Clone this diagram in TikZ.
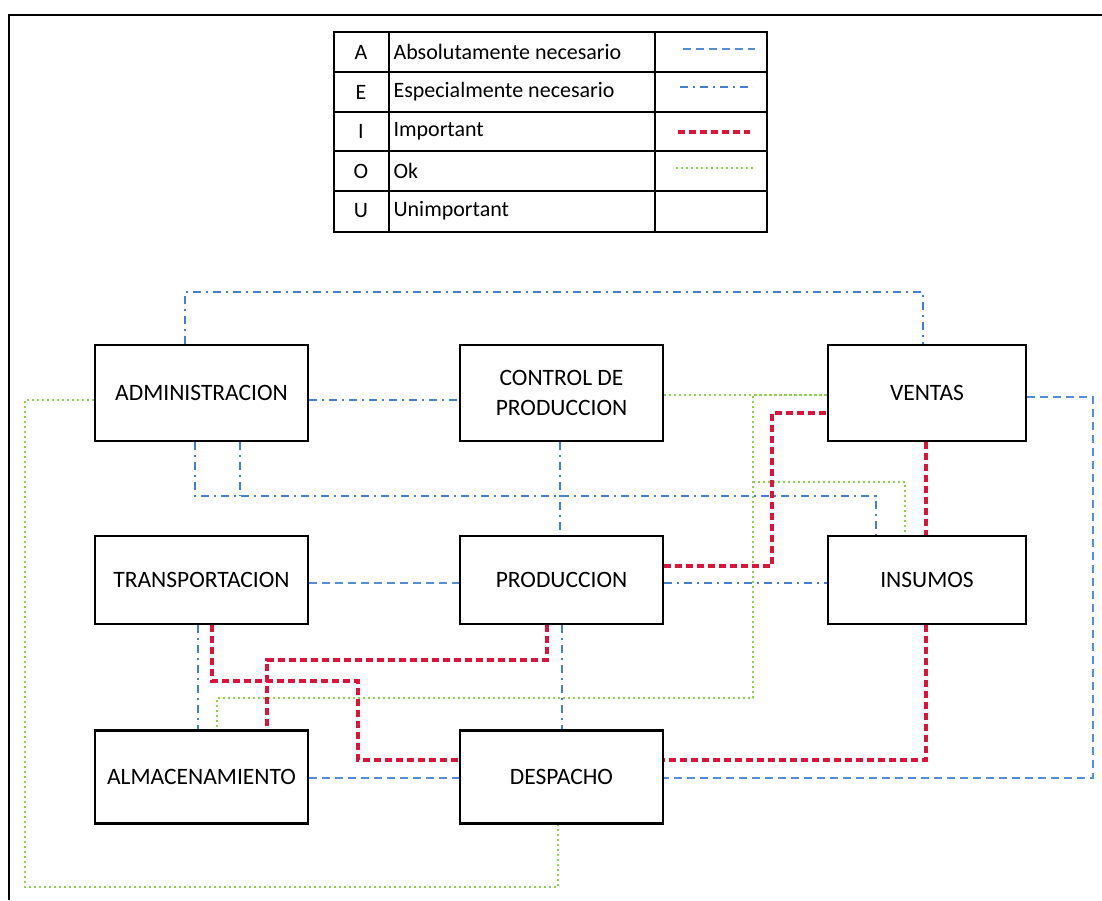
\documentclass[tikz,border=0pt]{standalone}
\usepackage{fontspec}
\setmainfont{Carlito}
\definecolor{relAcol}{RGB}{85,142,213}
\definecolor{relEcol}{RGB}{70,128,205}
\definecolor{relIcol}{RGB}{220,20,60}
\definecolor{relOcol}{RGB}{146,208,80}

\begin{document}
\begin{tikzpicture}[
  x=1pt, y=-1pt,
  every node/.style={font=\fontsize{22}{30}\selectfont},
  area/.style={draw=black, line width=2.8pt, inner sep=0pt, align=center,
    font=\fontsize{23.5}{30}\selectfont},
  relA/.style={draw=relAcol, line width=2.4pt, dash pattern=on 8pt off 5pt},
  relE/.style={draw=relEcol, line width=2.4pt, dash pattern=on 8pt off 5pt on 2pt off 5pt},
  relI/.style={draw=relIcol, line width=3.4pt, dash pattern=on 7pt off 4pt},
  relO/.style={draw=relOcol, line width=2.4pt, dash pattern=on 2pt off 3pt}
]
\useasboundingbox (0,0) rectangle (1102,900);
\draw[line width=2pt] (9,900) -- (9,15) -- (1102,15);

% Legend of closeness ratings.
\draw[line width=1.4pt] (334,32) rectangle (767,232);
\foreach \y in {72,112,151,191}
  \draw[line width=1.2pt] (334,\y) -- (767,\y);
\draw[line width=1.2pt] (389,32) -- (389,232);
\draw[line width=1.2pt] (655,32) -- (655,232);
\foreach \y/\c/\t in {52/A/Absolutamente necesario, 92/E/Especialmente necesario,
  131/I/Important, 171/O/Ok, 211/U/Unimportant} {
  \node (key\c) at (361,\y) {\c};
  \node[anchor=west] (txt\c) at (390,\y) {\t};
}
\draw[relA] (683,49) -- (755,49);
\draw[relE] (680,87) -- (753,87);
\draw[relI] (678,132) -- (750,132);
\draw[relO] (676,168) -- (753,168);

% Areas of the plant.
\node[area, minimum width=213, minimum height=96] (adm) at (201.5,393) {ADMINISTRACION};
\node[area, minimum width=203, minimum height=96] (ctl) at (561.5,393) {CONTROL DE\\PRODUCCION};
\node[area, minimum width=198, minimum height=96] (ven) at (927,393) {VENTAS};
\node[area, minimum width=213, minimum height=88] (tra) at (201.5,580) {TRANSPORTACION};
\node[area, minimum width=203, minimum height=88] (pro) at (561.5,580) {PRODUCCION};
\node[area, minimum width=198, minimum height=88] (ins) at (927,580) {INSUMOS};
\node[area, minimum width=213, minimum height=93] (alm) at (201.5,777) {ALMACENAMIENTO};
\node[area, minimum width=203, minimum height=93] (des) at (561.5,777) {DESPACHO};
\coordinate (okjoin) at (753,482);

% A: absolutamente necesario
\draw[relA] (tra.east |- 0,583) -- (pro.west |- 0,583);
\draw[relA] (alm.east |- 0,778) -- (des.west |- 0,778);
\draw[relA] (ven.east |- 0,397) -| (1093,778) -- (des.east |- 0,778);

% E: especialmente necesario
\draw[relE] (adm.north -| 185,0) |- (923,292) -- (ven.north -| 923,0);
\draw[relE] (adm.east |- 0,400) -- (ctl.west |- 0,400);
\draw[relE] (adm.south -| 195,0) |- (876,496) -- (ins.north -| 876,0);
\draw[relE] (adm.south -| 240,0) -- (240,496);
\draw[relE] (ctl.south -| 560,0) -- (pro.north -| 560,0);
\draw[relE] (pro.east |- 0,583) -- (ins.west |- 0,583);
\draw[relE] (tra.south -| 198,0) -- (alm.north -| 198,0);
\draw[relE] (pro.south -| 562,0) -- (des.north -| 562,0);

% O: ok
\draw[relO] (ctl.east |- 0,395) -- (ven.west |- 0,395);
\draw[relO] (adm.west |- 0,400) -| (25,887) -| (des.south -| 558,0);
\draw[relO] (ven.west |- 0,395) -| (753,698) -| (alm.north -| 217,0);
\draw[relO] (okjoin) -| (ins.north -| 905,0);

% I: important
\draw[relI] (pro.east |- 0,566) -| (772,413) -- (ven.west |- 0,413);
\draw[relI] (ven.south -| 926,0) -- (ins.north -| 926,0);
\draw[relI] (ins.south -| 926,0) |- (des.east |- 0,760);
\draw[relI] (tra.south -| 212,0) |- (358,681) |- (des.west |- 0,760);
\draw[relI] (pro.south -| 547,0) |- (267,660) -- (alm.north -| 267,0);
\end{tikzpicture}
\end{document}
